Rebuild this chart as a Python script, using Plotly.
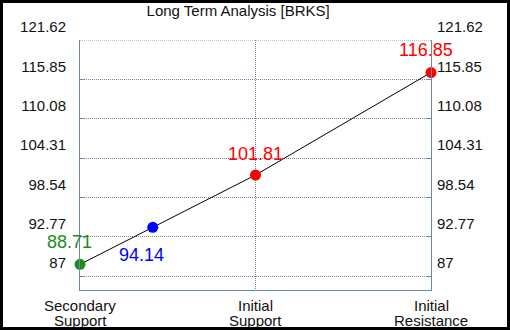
import plotly.graph_objects as go

# ---- data ----
title_text = "Long Term Analysis [BRKS]"
categories = ["Secondary Support", "Initial Support", "Initial Resistance"]
point_values = [88.71, 94.14, 101.81, 116.85]
point_colors = ["#228b22", "#0000ff", "#ff0000", "#ff0000"]
y_ticks = [87, 92.77, 98.54, 104.31, 110.08, 115.85, 121.62]
y_tick_labels = ["87", "92.77", "98.54", "104.31", "110.08", "115.85", "121.62"]
y_range = [84.95, 121.62]

# x positions: support levels on category positions, intermediate value placed on the line
cat_x = list(range(len(categories)))
mid_x = (point_values[1] - point_values[0]) / (point_values[2] - point_values[0])
point_x = [cat_x[0], mid_x, cat_x[1], cat_x[2]]

FONT = "Liberation Sans, Arial, sans-serif"
AXIS_COLOR = "#6f87a7"
DOT = "1px,1px"

fig = go.Figure()
fig.add_trace(go.Scatter(
    x=point_x, y=point_values, mode="lines+markers",
    line=dict(color="black", width=1),
    marker=dict(color=point_colors, size=11, line=dict(width=0)),
    hoverinfo="x+y", showlegend=False, cliponaxis=False,
))
# dummy trace for right axis
fig.add_trace(go.Scatter(x=[point_x[0]], y=[point_values[0]], yaxis="y2",
                         mode="markers", marker=dict(opacity=0), showlegend=False,
                         hoverinfo="skip"))

# value labels
label_shifts = [(-11, 22), (-11, -28), (0, 21), (-5, 23)]
for x, v, c, (dx, dy) in zip(point_x, point_values, point_colors, label_shifts):
    fig.add_annotation(x=x, y=v, text=f"{v:.2f}", showarrow=False,
                       xshift=dx, yshift=dy,
                       font=dict(family=FONT, size=18, color=c))

# category labels (two lines each)
for x, cat in zip(cat_x, categories):
    lines = cat.split(" ")
    for i, ln in enumerate(lines):
        fig.add_annotation(x=x, y=0, xref="x", yref="paper", text=ln,
                           showarrow=False, yanchor="middle",
                           yshift=-15 - 15 * i,
                           font=dict(family=FONT, size=15, color="#111111"))

yaxis_common = dict(
    range=y_range, tickmode="array", tickvals=y_ticks, ticktext=y_tick_labels,
    showline=True, linecolor=AXIS_COLOR, linewidth=1,
    ticks="inside", ticklen=4, tickcolor=AXIS_COLOR,
    tickfont=dict(family=FONT, size=15, color="#111111"),
    ticklabelshift=-13, zeroline=False, fixedrange=True,
)

fig.update_layout(
    width=510, height=330, autosize=False,
    margin=dict(l=80, r=79, t=40, b=40),
    paper_bgcolor="white", plot_bgcolor="white",
    title=dict(text=title_text, x=0.467, xanchor="center", xref="container",
               y=1 - 11 / 330, yanchor="middle", yref="container",
               font=dict(family=FONT, size=15, color="#111111")),
    xaxis=dict(range=[0, 2], tickmode="array", tickvals=cat_x, showticklabels=False,
               showgrid=True, gridcolor=AXIS_COLOR, griddash=DOT, gridwidth=1,
               showline=True, linecolor=AXIS_COLOR, linewidth=1, mirror=False,
               zeroline=False, fixedrange=True),
    yaxis=dict(**yaxis_common, side="left", showgrid=True, gridcolor=AXIS_COLOR,
               griddash=DOT, gridwidth=1, ticklabelstandoff=10),
    yaxis2=dict(**yaxis_common, side="right", overlaying="y", showgrid=False,
                ticklabelstandoff=2),
    shapes=[
        # dotted top gridline (at the top tick value)
        dict(type="line", xref="paper", yref="y", x0=0, x1=1,
             y0=y_ticks[-1], y1=y_ticks[-1],
             line=dict(color=AXIS_COLOR, width=1, dash=DOT), layer="below"),
        # outer black frame
        dict(type="rect", xref="paper", yref="paper",
             x0=-80 / 351, x1=430 / 351, y0=-40 / 250, y1=290 / 250,
             line=dict(color="black", width=6), fillcolor="rgba(0,0,0,0)"),
    ],
)

fig.write_html("out.html", config={"displayModeBar": False},
               post_script="document.body.style.margin='0';")
